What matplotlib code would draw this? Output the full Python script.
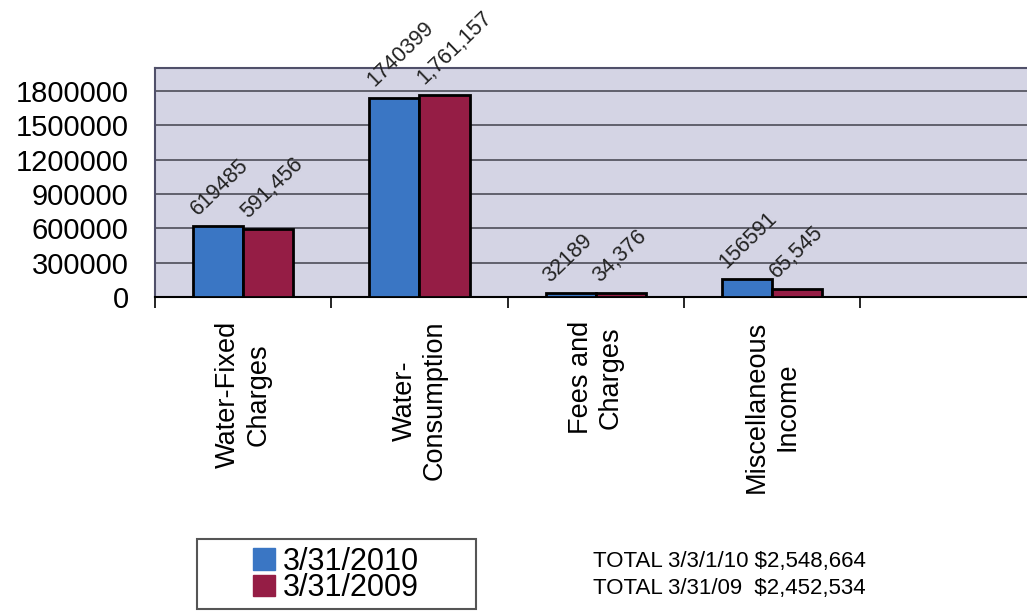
import matplotlib.pyplot as plt
import numpy as np
from matplotlib.patches import Patch, Rectangle

plt.rcParams['font.family'] = ['Liberation Sans', 'DejaVu Sans']

categories = ["Water-Fixed\nCharges", "Water-\nConsumption", "Fees and\nCharges",
              "Miscellaneous\nIncome"]
values_2010 = [619485, 1740399, 32189, 156591]
values_2009 = [591456, 1761157, 34376, 65545]
labels_2010 = ["619485", "1740399", "32189", "156591"]
labels_2009 = ["591,456", "1,761,157", "34,376", "65,545"]
series_names = ["3/31/2010", "3/31/2009"]
totals = ["TOTAL 3/3/1/10 $2,548,664", "TOTAL 3/31/09  $2,452,534"]
y_ticks = [0, 300000, 600000, 900000, 1200000, 1500000, 1800000]

blue = "#3a76c4"
red = "#951d45"

fig = plt.figure(figsize=(10.27, 6.11), dpi=100)
ax = fig.add_axes([155 / 1027, 1 - 297 / 611, 1 - 155 / 1027, (297 - 68) / 611])
ax.set_facecolor("#d4d4e4")

x = np.arange(len(categories))
w = 0.285
bars1 = ax.bar(x - w / 2, values_2010, w, color=blue, edgecolor="black", linewidth=2, zorder=3)
bars2 = ax.bar(x + w / 2, values_2009, w, color=red, edgecolor="black", linewidth=2, zorder=3)

# rotated value labels sitting on the bar tops
for bars, texts in [(bars1, labels_2010), (bars2, labels_2009)]:
    for b, t in zip(bars, texts):
        ax.annotate(t, (b.get_x(), b.get_height()), xytext=(6, 5), textcoords="offset points",
                    rotation=44, rotation_mode="anchor", ha="left", va="bottom",
                    fontsize=15.5, color="#222222", annotation_clip=False)

ax.set_ylim(0, 2000000)
ax.set_xlim(-0.5, -0.5 + 872 / 176.3)
ax.set_yticks(y_ticks)
ax.set_yticklabels([str(v) for v in y_ticks], fontsize=21)
ax.yaxis.grid(True, color="#4d4d58", linewidth=1.2, zorder=1)
ax.tick_params(axis="y", length=0, pad=19)

ax.set_xticks(x)
ax.set_xticklabels(categories, rotation=90, fontsize=19.5, ha="center", va="top",
                   multialignment="center")
ax.tick_params(axis="x", which="major", length=0, pad=17)
ax.set_xticks(np.arange(len(categories) + 1) - 0.5, minor=True)
ax.tick_params(axis="x", which="minor", length=8, width=1.2, direction="out")

for s in ["top", "left"]:
    ax.spines[s].set_color("#50506a")
    ax.spines[s].set_linewidth(1.5)
ax.spines["right"].set_visible(False)
ax.spines["bottom"].set_linewidth(1.5)

# legend with its own box
fig.patches.append(Rectangle((197 / 1027, 1 - 609 / 611), 279 / 1027, 70 / 611,
                             transform=fig.transFigure, facecolor="white",
                             edgecolor="#555555", linewidth=1.5))
handles = [Patch(color=blue), Patch(color=red)]
fig.legend(handles, series_names, loc="center", bbox_to_anchor=(336 / 1027, 1 - 575 / 611),
           frameon=False, fontsize=22, handlelength=0.7, handleheight=0.7,
           handletextpad=0.25, labelspacing=-0.12, borderpad=0)

fig.text(593 / 1027, 1 - 567 / 611, totals[0], fontsize=16, va="baseline")
fig.text(593 / 1027, 1 - 594 / 611, totals[1], fontsize=16, va="baseline")

fig.savefig("out.png", dpi=100)
